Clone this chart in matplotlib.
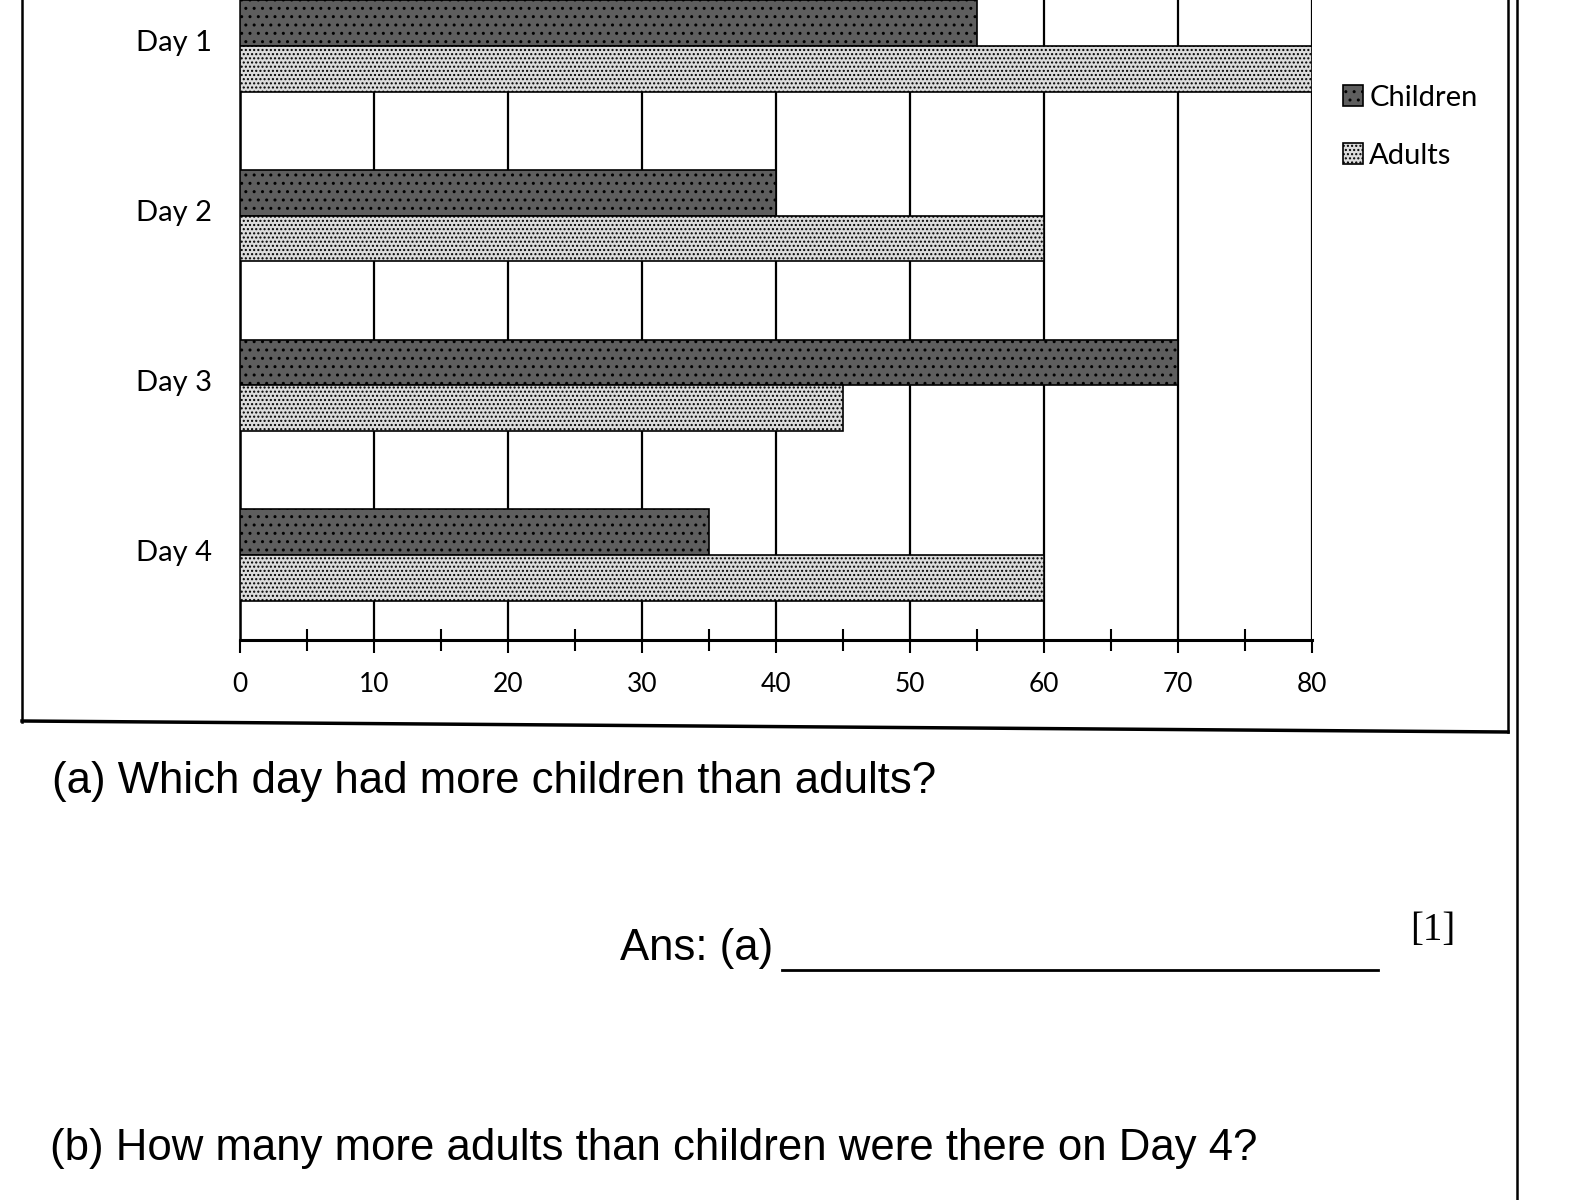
import matplotlib
matplotlib.use("Agg")
import matplotlib.pyplot as plt
from matplotlib.lines import Line2D
import numpy as np

days = ["Day 1", "Day 2", "Day 3", "Day 4"]
children = [55, 40, 70, 35]
adults = [80, 60, 45, 60]
x_ticks = [0, 10, 20, 30, 40, 50, 60, 70, 80]

W, H = 1570, 1200
fig = plt.figure(figsize=(15.7, 12), dpi=100)

def fx(px):
    return px / W

def fy(py):
    return 1 - py / H

# axes: x 240..1312 px, y -39..640 px (top is cut off by the page)
ax = fig.add_axes([fx(240), fy(640), fx(1312) - fx(240), (679) / H])

pos = np.arange(len(days))
h = 0.27
ax.barh(pos - h / 2, children, height=h, color="#5e5e5e", edgecolor="black",
        hatch="..", linewidth=1.2, label="Children", zorder=3)
ax.barh(pos + h / 2, adults, height=h, color="#dcdcdc", edgecolor="black",
        hatch="....", linewidth=1.2, label="Adults", zorder=3)

ax.set_xlim(0, 80)
ax.set_ylim(3.5, -0.5)
ax.set_yticks(pos - 0.03)
ax.set_yticklabels(days, family="Lato", fontsize=21)
ax.tick_params(axis="y", length=0, pad=20)
ax.set_xticks(x_ticks)
ax.set_xticklabels([str(v) for v in x_ticks], family="Lato", fontsize=19)
ax.set_xticks(np.arange(5, 80, 10), minor=True)
ax.tick_params(axis="x", which="major", direction="out", length=9, width=1.5, pad=14)
ax.tick_params(axis="x", which="minor", direction="inout", length=16, width=1.5)
ax.grid(axis="x", color="black", linewidth=1.6, zorder=0)
ax.set_axisbelow(True)
for s in ["top", "right"]:
    ax.spines[s].set_visible(False)
ax.spines["left"].set_linewidth(1.8)
ax.spines["bottom"].set_linewidth(2.2)

ax.legend(loc="upper left", bbox_to_anchor=(1.018, 0.835), frameon=False,
          prop={"family": "Lato", "size": 21}, handlelength=0.7, handleheight=0.7,
          handletextpad=0.2, labelspacing=1.1, borderaxespad=0)

# chart frame and page border from the scan
fig.add_artist(Line2D([fx(22), fx(22)], [fy(722), 1.0], color="black", lw=1.8))
fig.add_artist(Line2D([fx(22), fx(1508)], [fy(721), fy(732)], color="black", lw=2.5))
fig.add_artist(Line2D([fx(1508), fx(1508)], [fy(732), 1.0], color="black", lw=1.8))
fig.add_artist(Line2D([fx(1517), fx(1517)], [0.0, 1.0], color="black", lw=1.8))

# question text below the chart
qfont = {"family": "Liberation Sans", "size": 31.5}
fig.text(fx(52), fy(793), "(a) Which day had more children than adults?", va="baseline", **qfont)
fig.text(fx(620), fy(960), "Ans: (a)", va="baseline", **qfont)
fig.add_artist(Line2D([fx(782), fx(1378)], [fy(970), fy(970)], color="black", lw=2))
fig.text(fx(1410), fy(940), "[1]", va="baseline", family="Liberation Serif", size=28)
fig.text(fx(50), fy(1160), "(b) How many more adults than children were there on Day 4?",
         va="baseline", **qfont)

fig.savefig("out.png", dpi=100)
